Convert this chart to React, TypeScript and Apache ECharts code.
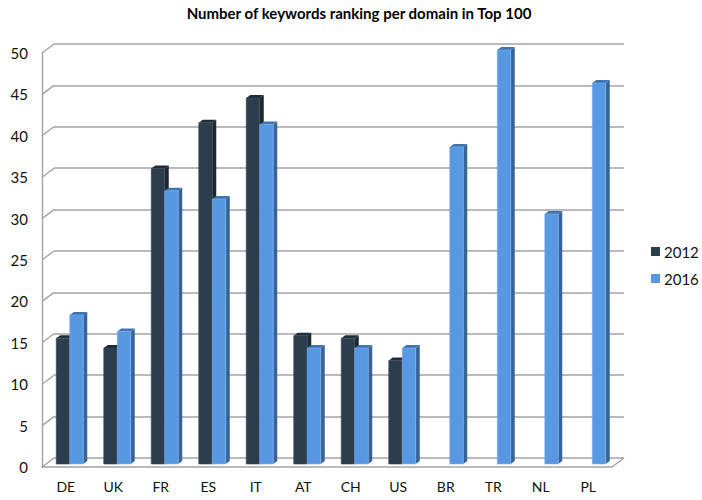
import React, { useEffect, useRef } from "react";
import * as echarts from "echarts";

const categories = ["DE", "UK", "FR", "ES", "IT", "AT", "CH", "US", "BR", "TR", "NL", "PL"];
const values2012: (number | null)[] = [15.2, 14, 35.7, 41.2, 44.2, 15.5, 15.2, 12.5, null, null, null, null];
const values2016: (number | null)[] = [18, 16, 33, 32, 41, 14, 14, 14, 38.3, 50, 30.2, 46];
const yTicks = [0, 5, 10, 15, 20, 25, 30, 35, 40, 45, 50];

const FONT = "Lato, 'Open Sans', sans-serif";
const GRID_COLOR = "#a3a3a3";
const DEPTH_X = 12;
const DEPTH_Y = 9;
const BAR_W = 13.5;
const BAR_DX = 4;
const BAR_DY = 3;

function barRenderer(side: -1 | 1, front: string, top: string, right: string, edge: string) {
  return (params: any, api: any) => {
    const v = api.value(1);
    if (v === null || v === undefined || isNaN(v)) return null;
    const t = api.coord([api.value(0), v]);
    const b = api.coord([api.value(0), 0]);
    const x0 = side < 0 ? t[0] - BAR_W : t[0];
    const x1 = x0 + BAR_W;
    const y0 = t[1];
    const y1 = b[1];
    return {
      type: "group",
      children: [
        {
          type: "polygon",
          shape: { points: [[x1, y0], [x1 + BAR_DX, y0 - BAR_DY], [x1 + BAR_DX, y1 - BAR_DY], [x1, y1]] },
          style: { fill: right },
        },
        {
          type: "polygon",
          shape: { points: [[x0, y0], [x0 + BAR_DX, y0 - BAR_DY], [x1 + BAR_DX, y0 - BAR_DY], [x1, y0]] },
          style: { fill: top },
        },
        {
          type: "rect",
          shape: { x: x0, y: y0, width: BAR_W, height: y1 - y0 },
          style: { fill: front, stroke: edge, lineWidth: 0.6 },
        },
      ],
    };
  };
}

function diagonalRenderer(params: any, api: any) {
  const p = api.coord([0, api.value(0)]);
  const left = params.coordSys.x;
  const right = left + params.coordSys.width;
  const y = p[1];
  const style = { stroke: GRID_COLOR, lineWidth: 1.4, fill: "none" };
  const children: any[] = [
    { type: "line", shape: { x1: left, y1: y, x2: left + DEPTH_X, y2: y - DEPTH_Y }, style },
  ];
  if (api.value(0) === 0) {
    children.push({ type: "line", shape: { x1: right, y1: y, x2: right + DEPTH_X, y2: y - DEPTH_Y }, style });
  }
  return { type: "group", children };
}

export default function App() {
  const ref = useRef<HTMLDivElement>(null);
  useEffect(() => {
    document.body.style.margin = "0";
    const chart = echarts.init(ref.current!, undefined, { renderer: "svg" });
    chart.setOption({
      animation: false,
      backgroundColor: "#ffffff",
      title: {
        text: "Number of keywords ranking per domain in Top 100",
        left: 354,
        top: 0,
        textAlign: "center",
        textStyle: { fontFamily: FONT, fontSize: 15, fontWeight: "bold", color: "#000" },
      },
      legend: {
        data: ["2012", "2016"],
        orient: "vertical",
        left: 646,
        top: 239,
        itemWidth: 9,
        itemHeight: 9,
        itemGap: 12,
        icon: "rect",
        textStyle: { fontFamily: FONT, fontSize: 15, color: "#111", padding: [0, 0, 0, -1] },
      },
      grid: [
        { left: 42, right: 90, top: 53, bottom: 33 },
        { left: 54, right: 78, top: 44, bottom: 42 },
        { left: 46, right: 86, top: 50, bottom: 36 },
      ],
      xAxis: [
        {
          type: "category",
          gridIndex: 0,
          data: categories,
          axisLine: { show: true, lineStyle: { color: GRID_COLOR, width: 1.6 } },
          axisTick: { show: false },
          axisLabel: { fontFamily: FONT, fontSize: 14, color: "#111", margin: 12 },
        },
        { type: "category", gridIndex: 1, data: categories, show: false },
        { type: "category", gridIndex: 2, data: categories, show: false },
      ],
      yAxis: [
        {
          type: "value",
          gridIndex: 0,
          min: 0,
          max: 50,
          interval: 5,
          axisLine: { show: true, lineStyle: { color: GRID_COLOR, width: 1.4 } },
          axisTick: { show: false },
          splitLine: { show: false },
          axisLabel: { fontFamily: FONT, fontSize: 15, color: "#111", margin: 14 },
        },
        {
          type: "value",
          gridIndex: 1,
          min: 0,
          max: 50,
          interval: 5,
          axisLine: { show: false },
          axisTick: { show: false },
          axisLabel: { show: false },
          splitLine: { show: true, lineStyle: { color: GRID_COLOR, width: 1.6 } },
        },
        { type: "value", gridIndex: 2, min: 0, max: 50, interval: 5, show: false, splitLine: { show: false } },
      ],
      series: [
        {
          name: "frame",
          type: "custom",
          xAxisIndex: 0,
          yAxisIndex: 0,
          silent: true,
          clip: false,
          z: 1,
          encode: { y: 0 },
          data: yTicks.map((t) => [t]),
          renderItem: diagonalRenderer,
        },
        {
          name: "2012",
          type: "custom",
          xAxisIndex: 2,
          yAxisIndex: 2,
          clip: false,
          z: 3,
          itemStyle: { color: "#2c3e4d" },
          encode: { x: 0, y: 1 },
          data: values2012.map((v, i) => [i, v]),
          renderItem: barRenderer(-1, "#2c3e4d", "#1f2d38", "#1c2830", "#34475a"),
        },
        {
          name: "2016",
          type: "custom",
          xAxisIndex: 2,
          yAxisIndex: 2,
          clip: false,
          z: 4,
          itemStyle: { color: "#5898e2" },
          encode: { x: 0, y: 1 },
          data: values2016.map((v, i) => [i, v]),
          renderItem: barRenderer(1, "#5898e2", "#3e74b0", "#376496", "#7fb0ea"),
        },
      ],
    });
    return () => chart.dispose();
  }, []);
  return <div ref={ref} style={{ width: 702, height: 500 }} />;
}
